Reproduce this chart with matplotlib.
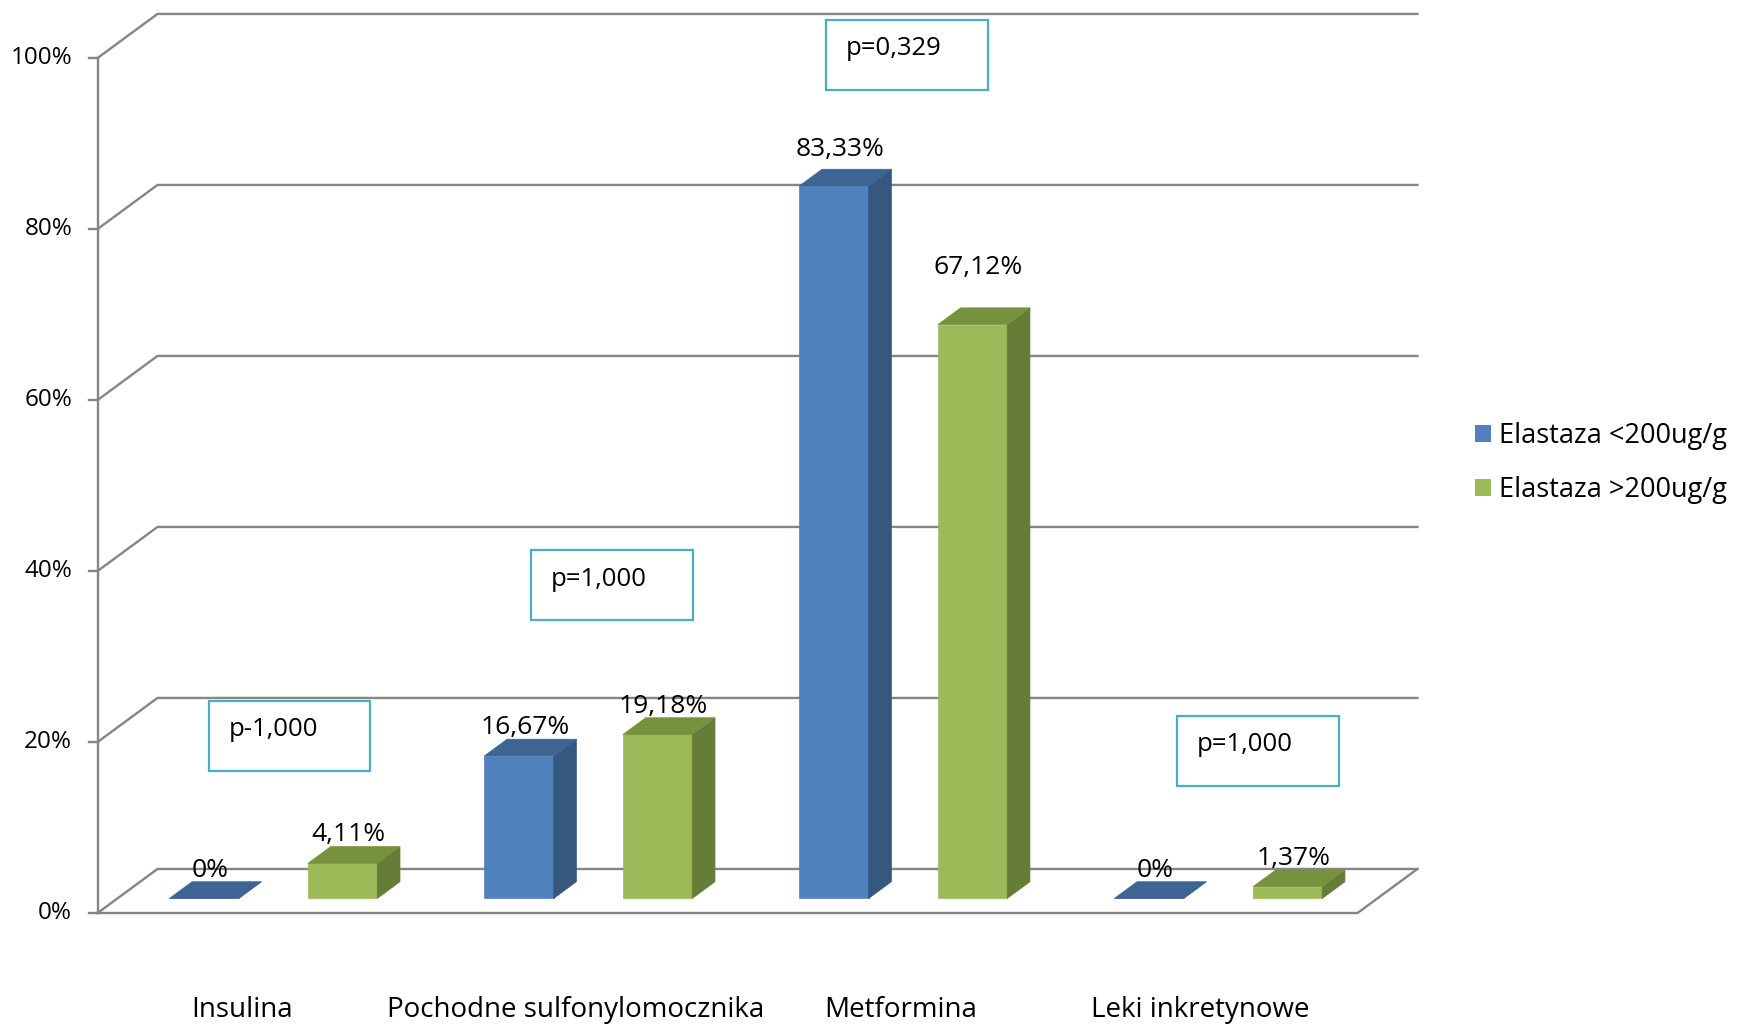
import matplotlib
matplotlib.use("Agg")
import matplotlib.pyplot as plt
from matplotlib.patches import Polygon, Rectangle, Patch

# data
categories = ["Insulina", "Pochodne sulfonylomocznika", "Metformina", "Leki inkretynowe"]
series_names = ["Elastaza <200ug/g", "Elastaza >200ug/g"]
below_200 = [0, 16.67, 83.33, 0]
above_200 = [4.11, 19.18, 67.12, 1.37]
p_labels = ["p-1,000", "p=1,000", "p=0,329", "p=1,000"]
y_ticks = [0, 20, 40, 60, 80, 100]

plt.rcParams['font.family'] = ['Open Sans', 'DejaVu Sans']

# fake-3D geometry (x in category units, y in percent)
DX, DY = 0.19, 5.15          # full depth offset of the box
D0, D1 = 0.33, 0.71          # front / back depth of the bars
BAR_W = 0.22
BAR_OFF = [0.165, 0.605]
GRID = '#858585'

# front, side, top colours for each series
colors = [('#4F81BD', '#36587F', '#3D6594'),
          ('#9BBB59', '#657D37', '#76923C')]

# p-value boxes: left, top (data units)
p_pos = [(0.352, 24.8), (1.376, 42.4), (2.313, 104.4), (3.426, 23.0)]
BOX_W, BOX_H = 0.514, 8.15

# extra lift for a couple of value labels, small shifts of category labels
label_lift = {(0, 2): 0.9, (1, 2): 3.4}
cat_shift = [-0.042, 0.019, 0.049, 0.0]


def P(x, y, d):
    return (x + d * DX, y + d * DY)


fig = plt.figure(figsize=(17.39, 10.28), dpi=100)
ax = fig.add_axes([0, 0, 1, 1])
ax.set_xlim(-0.31, 5.211)
ax.set_ylim(-13.45, 106.78)
ax.axis('off')

n = len(categories)
# walls: gridlines on the side wall and back wall
for v in y_ticks:
    ax.plot([0, DX, n + DX], [v, v + DY, v + DY], color=GRID, lw=1.7, zorder=1,
            solid_joinstyle='miter')
    ax.plot([-0.027, 0], [v, v], color=GRID, lw=1.7, zorder=1)
    ax.text(-0.081, v, f"{v}%", ha='right', va='center', fontsize=17.5)
# floor and axis
ax.plot([0, n, n + DX], [0, 0, DY], color=GRID, lw=1.7, zorder=1)
ax.plot([0, 0], [0, 100], color=GRID, lw=1.7, zorder=1)

for i in range(n):
    for s, vals in enumerate([below_200, above_200]):
        v = vals[i]
        x0 = i + BAR_OFF[s]
        x1 = x0 + BAR_W
        front, side, top = colors[s]
        faces = [
            ([P(x0, 0, D0), P(x1, 0, D0), P(x1, v, D0), P(x0, v, D0)], front),
            ([P(x1, 0, D0), P(x1, 0, D1), P(x1, v, D1), P(x1, v, D0)], side),
            ([P(x0, v, D0), P(x1, v, D0), P(x1, v, D1), P(x0, v, D1)], top),
        ]
        for pts, c in faces:
            ax.add_patch(Polygon(pts, closed=True, facecolor=c, edgecolor=c,
                                 lw=0.5, zorder=3))
        txt = "0%" if v == 0 else f"{v:.2f}".replace('.', ',') + "%"
        lx = P(x0 + BAR_W / 2, v, D0 + 0.1)[0]
        ly = v + D1 * DY + 0.6 + label_lift.get((s, i), 0)
        ax.text(lx, ly, txt, ha='center', va='baseline', fontsize=19, zorder=5)
    ax.text(i + 0.5 + cat_shift[i], -11.35, categories[i], ha='center',
            va='center', fontsize=20)

# p-value boxes
for (bx, by), lab in zip(p_pos, p_labels):
    ax.add_patch(Rectangle((bx, by - BOX_H), BOX_W, BOX_H, facecolor='white',
                           edgecolor='#4BACC6', lw=1.6, zorder=6))
    ax.text(bx + 0.063, by - 0.41 * BOX_H, lab, ha='left', va='center',
            fontsize=18.5, zorder=7)

handles = [Patch(facecolor=colors[s][0], edgecolor='none') for s in range(2)]
fig.legend(handles, series_names, loc='center left',
           bbox_to_anchor=(1461 / 1739, 1 - 463 / 1028), frameon=False,
           fontsize=19.5, handlelength=0.6, handleheight=0.6, handletextpad=0.3,
           labelspacing=0.95, borderpad=0)

fig.savefig("out.png", dpi=100)
